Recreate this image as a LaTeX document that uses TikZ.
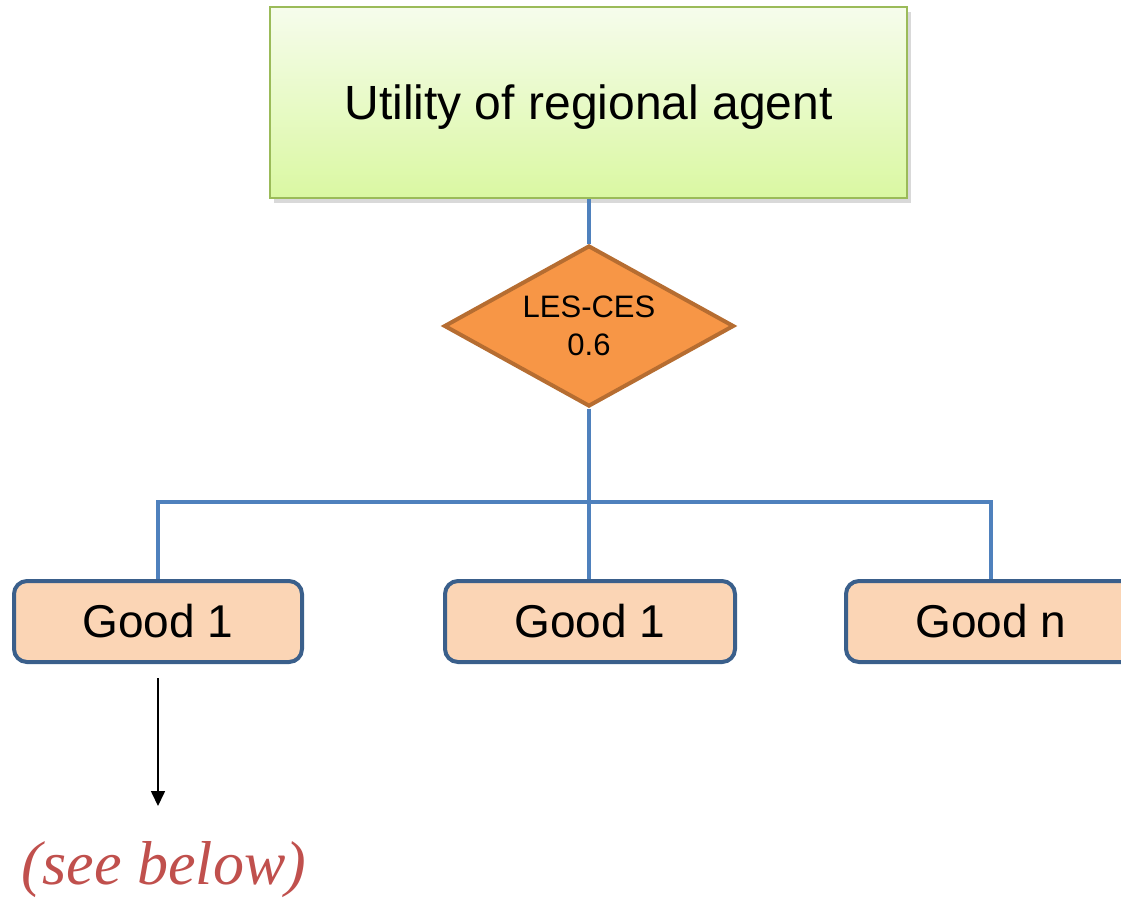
\documentclass[tikz,border=0pt]{standalone}
\usepackage{fontspec}
\setmainfont{Liberation Sans}
\newfontfamily\notefont{Liberation Serif}
\usetikzlibrary{shapes.geometric,arrows.meta}
\definecolor{topborder}{HTML}{9BBB59}
\definecolor{toplight}{HTML}{F6FCEC}
\definecolor{topdark}{HTML}{DAF8A2}
\definecolor{linkblue}{HTML}{4F81BD}
\definecolor{diafill}{HTML}{F79646}
\definecolor{diaborder}{HTML}{B66D31}
\definecolor{goodfill}{HTML}{FBD5B5}
\definecolor{goodborder}{HTML}{3A5F8B}
\definecolor{notered}{HTML}{C0504D}
\tikzset{
  topbox/.style={draw=topborder, line width=2.5pt, top color=toplight, bottom color=topdark,
    minimum width=637pt, minimum height=191pt, inner sep=0pt,
    text height=34pt, text depth=0pt, font=\fontsize{48}{56}\selectfont},
  gate/.style={diamond, aspect=1.8, draw=diaborder, fill=diafill, line width=4pt,
    minimum width=290pt, minimum height=161pt, inner sep=0pt, align=center,
    font=\fontsize{31}{38}\selectfont},
  goodbox/.style={draw=goodborder, fill=goodfill, line width=4pt, rounded corners=13pt,
    minimum width=288pt, minimum height=81pt, inner sep=0pt, font=\fontsize{46}{54}\selectfont},
  link/.style={draw=linkblue, line width=4pt},
}
\begin{document}
\begin{tikzpicture}[x=1pt,y=-1pt]
  \useasboundingbox (0,0) rectangle (1121,903);
  \clip (0,0) rectangle (1121,903);

  % soft shadow under the top box
  \fill[black!15] (274,12) rectangle (911,203);
  \node[topbox] (util) at (588.5,102.5) {Utility of regional agent};

  \node[gate] (ces) at (589,326) {LES-CES\\0.6};

  \node[goodbox] (g1) at (158,621.5) {Good 1};
  \node[goodbox, minimum width=290pt] (g2) at (590,621.5) {Good 1};
  \node[goodbox, minimum width=290pt] (gn) at (991,621.5) {Good n};

  \coordinate (bus) at (589,502);
  \coordinate (arrowtop) at (158,678);
  \coordinate (arrowend) at (158,806);

  % tree connectors
  \draw[link] (util.south -| ces.north) -- (ces.north);
  \draw[link] (ces.south) -- (g2.north -| ces.south);
  \draw[link] (g1.north) -- (g1.north |- bus) -- (gn.north |- bus) -- (gn.north);

  % pointer to the detailed nest
  \draw[line width=1.6pt, -{Triangle[length=15pt,width=14pt]}] (arrowtop) -- (arrowend);
  \node[text=notered, font=\notefont\itshape\fontsize{62}{70}\selectfont, anchor=base]
    (note) at (164,884) {(see below)};
\end{tikzpicture}
\end{document}
